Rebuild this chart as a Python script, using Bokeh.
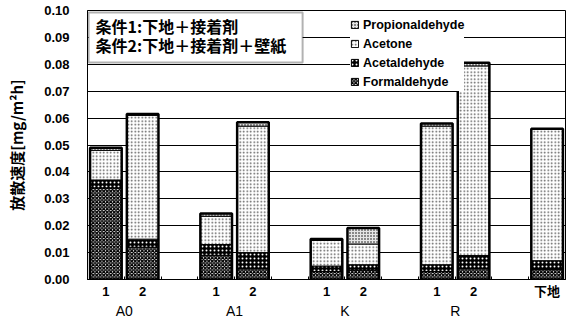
from bokeh.plotting import figure
from bokeh.models import (Range1d, FixedTicker, SingleIntervalTicker, NumeralTickFormatter,
                          LinearAxis, Legend, LegendItem, BoxAnnotation, Label, ColumnDataSource)
from bokeh.transform import stack
from bokeh.embed import file_html
from bokeh.resources import INLINE

# ---- data ----
groups = ["A0", "A1", "K", "R"]
conditions = ["1", "2"]
base_label = "下地"
formaldehyde    = [0.034, 0.012, 0.009, 0.004, 0.003, 0.0035, 0.003, 0.004, 0.0037]
acetaldehyde    = [0.003, 0.003, 0.004, 0.006, 0.002, 0.002, 0.0025, 0.0049, 0.0033]
acetone         = [0.011, 0.046, 0.0105, 0.047, 0.0095, 0.0077, 0.0515, 0.0705, 0.049]
propionaldehyde = [0.001, 0.0005, 0.001, 0.0015, 0.0006, 0.0059, 0.001, 0.0012, 0.0]
series = ["Formaldehyde", "Acetaldehyde", "Acetone", "Propionaldehyde"]
cond_texts = ["条件1:下地＋接着剤", "条件2:下地＋接着剤＋壁紙"]
y_title = "放散速度[mg/m²h]"

# ---- layout of slots (groups of two bars separated by an empty slot) ----
step = len(conditions) + 1
xs, tick_labels = [], []
for gi, g in enumerate(groups):
    for ci, c in enumerate(conditions):
        xs.append(gi * step + ci)
        tick_labels.append(c)
xs.append(len(groups) * step)
tick_labels.append(base_label)
group_centers = [gi * step + (len(conditions) - 1) / 2 for gi in range(len(groups))]
nslots = len(groups) * step + 1

src = ColumnDataSource(dict(x=xs, Formaldehyde=formaldehyde, Acetaldehyde=acetaldehyde,
                            Acetone=acetone, Propionaldehyde=propionaldehyde))

FONT = "Liberation Sans"
JFONT = "Noto Sans CJK JP"
MIXFONT = "'Liberation Sans', 'Noto Sans CJK JP'"

p = figure(width=571, height=321, output_backend="svg", toolbar_location=None,
           x_range=Range1d(-0.5, nslots - 0.5), y_range=Range1d(0, 0.10),
           min_border_left=87, min_border_right=6, min_border_top=10, min_border_bottom=41)
p.background_fill_color = "white"
p.outline_line_color = "black"
p.outline_line_width = 1

styles = {
    "Formaldehyde":    dict(fill_color="white", hatch_pattern="x", hatch_color="black", hatch_scale=3.5, hatch_weight=1.4),
    "Acetaldehyde":    dict(fill_color="black", hatch_pattern=".", hatch_color="white", hatch_scale=4, hatch_weight=1.5),
    "Acetone":         dict(fill_color="white", hatch_pattern=".", hatch_color="#555555", hatch_scale=3.5, hatch_weight=1.2),
    "Propionaldehyde": dict(fill_color="#e6e6e6", hatch_pattern=".", hatch_color="black", hatch_scale=3, hatch_weight=1.3),
}

renderers = {}
for i, s in enumerate(series):
    r = p.vbar(x="x", width=0.86, bottom=stack(*series[:i]), top=stack(*series[:i + 1]),
               source=src, line_color="black", line_width=1, **styles[s])
    renderers[s] = r
p.vbar(x="x", width=0.86, bottom=0, top=stack(*series), source=src,
       fill_color=None, line_color="black", line_width=2.5)

# axes
p.xaxis.ticker = FixedTicker(ticks=xs, minor_ticks=[k - 0.5 for k in range(nslots + 1)])
p.xaxis.major_label_overrides = {x: t for x, t in zip(xs, tick_labels)}
p.xaxis.major_tick_line_color = None
p.xaxis.major_tick_in = 0
p.xaxis.major_tick_out = 0
p.xaxis.minor_tick_in = 3
p.xaxis.minor_tick_out = 0
p.xaxis.axis_line_color = "black"
p.xaxis.major_label_text_font = MIXFONT
p.xaxis.major_label_text_font_style = "bold"
p.xaxis.major_label_text_font_size = "13px"
p.xaxis.major_label_text_color = "black"
p.xaxis.major_label_standoff = 4

gaxis = LinearAxis(ticker=FixedTicker(ticks=group_centers),
                   major_label_overrides={c: g for c, g in zip(group_centers, groups)})
gaxis.axis_line_color = None
gaxis.major_tick_line_color = None
gaxis.minor_tick_line_color = None
gaxis.major_tick_in = 0
gaxis.major_tick_out = 0
gaxis.minor_tick_in = 0
gaxis.minor_tick_out = 0
gaxis.major_label_text_font = FONT
gaxis.major_label_text_font_size = "14px"
gaxis.major_label_text_color = "black"
gaxis.major_label_standoff = 1
p.add_layout(gaxis, "below")

p.yaxis.ticker = SingleIntervalTicker(interval=0.01)
p.yaxis.formatter = NumeralTickFormatter(format="0.00")
p.yaxis.major_tick_in = 0
p.yaxis.major_tick_out = 0
p.yaxis.minor_tick_line_color = None
p.yaxis.minor_tick_in = 0
p.yaxis.minor_tick_out = 0
p.yaxis.axis_line_color = "black"
p.yaxis.major_label_text_font = FONT
p.yaxis.major_label_text_font_style = "bold"
p.yaxis.major_label_text_font_size = "13px"
p.yaxis.major_label_text_color = "black"
p.yaxis.major_label_standoff = 18
p.yaxis.axis_label = y_title
p.yaxis.axis_label_text_font = JFONT
p.yaxis.axis_label_text_font_style = "bold"
p.yaxis.axis_label_text_font_size = "15px"
p.yaxis.axis_label_text_color = "black"
p.yaxis.axis_label_standoff = 14

p.xgrid.grid_line_color = None
p.ygrid.grid_line_color = "black"
p.ygrid.grid_line_width = 1

# condition box
p.add_layout(BoxAnnotation(left=-0.47, right=5.35, top=0.0993, bottom=0.0807,
                           fill_color="white", fill_alpha=1, line_color="black", line_width=2))
for t, yv in zip(cond_texts, [0.0944, 0.0873]):
    p.add_layout(Label(x=-0.28, y=yv, text=t, text_font=JFONT, text_font_style="bold",
                       text_font_size="16px", text_baseline="middle", text_color="black"))

legend = Legend(items=[LegendItem(label=s, renderers=[renderers[s]]) for s in reversed(series)],
                location=(263, 188), padding=0, margin=0, spacing=0, label_height=19,
                glyph_height=9, glyph_width=9, label_standoff=4,
                border_line_color=None, background_fill_color="white", background_fill_alpha=1,
                label_text_font=FONT, label_text_font_style="bold", label_text_font_size="12.5px",
                label_text_color="black")
p.add_layout(legend)

open("out.html", "w").write(file_html(p, INLINE))
